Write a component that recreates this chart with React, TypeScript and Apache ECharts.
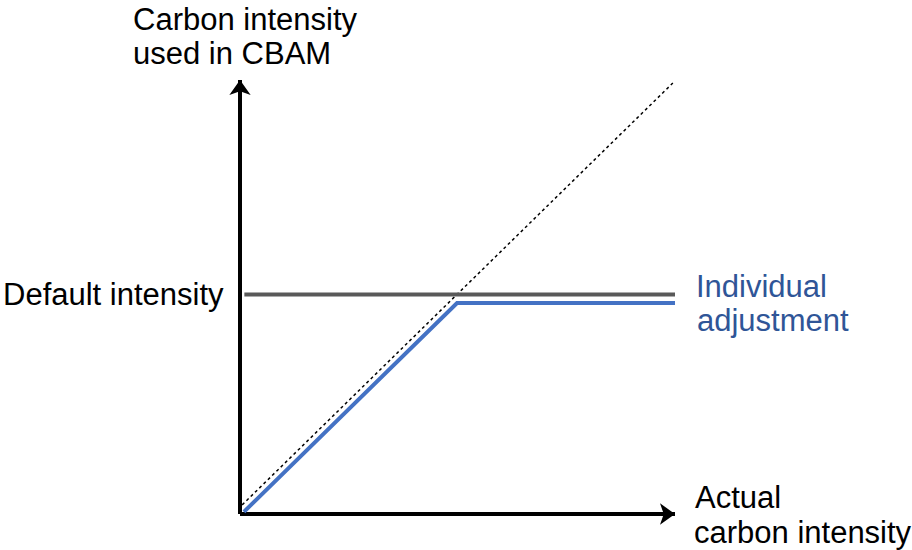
import React, { useEffect, useRef } from "react";
import * as echarts from "echarts";

// Line data (axis units: 0..100 spans each axis up to its arrow tip)
const diagonalLine = [
  [0.5, 2.1],
  [99.5, 99.3],
];
const defaultIntensityLine = [
  [1, 50.6],
  [100, 50.6],
];
const individualAdjustmentLine = [
  [0.9, 0.5],
  [49.9, 48.6],
  [100, 48.6],
];

const yTitleLines = ["Carbon intensity", "used in CBAM"];
const xTitleLines = ["Actual", "carbon intensity"];
const defaultLabel = "Default intensity";
const adjustmentLines = ["Individual", "adjustment"];

const FONT = "'Liberation Sans', Arial, Helvetica, sans-serif";

export default function App() {
  const ref = useRef<HTMLDivElement>(null);
  useEffect(() => {
    if (!ref.current) return;
    const chart = echarts.init(ref.current, undefined, { renderer: "svg" });
    const txt = (text: string, x: number, y: number, color = "#000") => ({
      type: "text",
      x,
      y,
      silent: true,
      style: {
        text,
        fill: color,
        font: `31px ${FONT}`,
        fontSize: 31,
        fontFamily: FONT,
        textAlign: "left",
        textVerticalAlign: "middle",
      },
    });
    const axisLine = {
      show: true,
      onZero: false,
      symbol: ["none", "arrow"],
      symbolSize: [16, 15],
      lineStyle: { color: "#000", width: 4, cap: "butt" },
    };
    chart.setOption({
      animation: false,
      backgroundColor: "#fff",
      grid: { left: 240, right: 237, top: 80, bottom: 36, containLabel: false },
      xAxis: {
        type: "value",
        min: 0,
        max: 100,
        axisLine,
        axisTick: { show: false },
        axisLabel: { show: false },
        splitLine: { show: false },
      },
      yAxis: {
        type: "value",
        min: 0,
        max: 100,
        axisLine,
        axisTick: { show: false },
        axisLabel: { show: false },
        splitLine: { show: false },
      },
      series: [
        {
          type: "line",
          data: diagonalLine,
          clip: false,
          symbol: "none",
          silent: true,
          z: 1,
          lineStyle: { color: "#000", width: 1.5, type: [3, 3] },
        },
        {
          type: "line",
          data: defaultIntensityLine,
          clip: false,
          symbol: "none",
          silent: true,
          z: 2,
          lineStyle: { color: "#595959", width: 4 },
        },
        {
          type: "line",
          data: individualAdjustmentLine,
          clip: false,
          symbol: "none",
          silent: true,
          z: 3,
          lineStyle: { color: "#4472C4", width: 4, join: "miter" },
        },
      ],
      graphic: [
        txt(yTitleLines[0], 133, 19),
        txt(yTitleLines[1], 133, 53),
        txt(defaultLabel, 3, 294.5),
        txt(adjustmentLines[0], 696, 286, "#2F5597"),
        txt(adjustmentLines[1], 697, 320.5, "#2F5597"),
        txt(xTitleLines[0], 695, 497.5),
        txt(xTitleLines[1], 694, 532),
      ],
    });
    return () => chart.dispose();
  }, []);
  return (
    <div
      ref={ref}
      style={{ position: "fixed", left: 0, top: 0, width: 912, height: 550, background: "#fff" }}
    />
  );
}
